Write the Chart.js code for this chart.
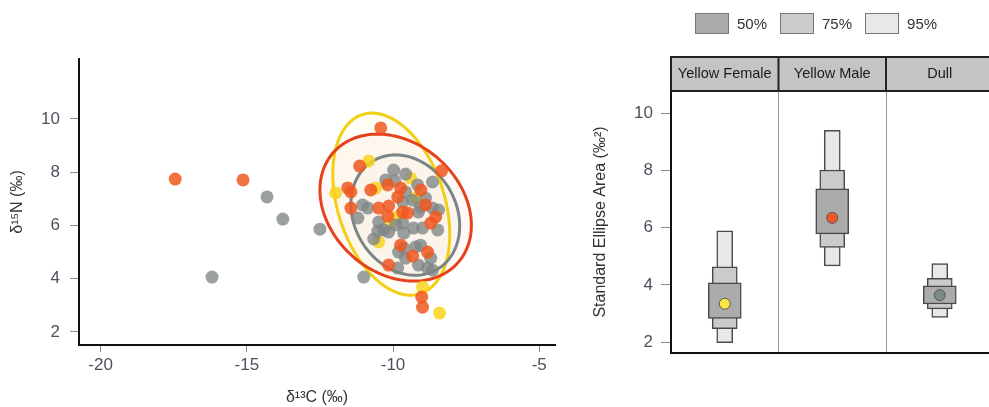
<!DOCTYPE html>
<html>
<head>
<meta charset="utf-8">
<script src="https://cdn.jsdelivr.net/npm/chart.js@4.4.1/dist/chart.umd.min.js"></script>
<style>
html, body { margin: 0; padding: 0; background: #fff; overflow: hidden; width: 989px; height: 407px; position: relative; font-family: "Liberation Sans", Arial, sans-serif; }
#left { position: absolute; left: 0; top: 0; }
#right { position: absolute; left: 580px; top: 0; }
#legend { position: absolute; left: 695px; top: 13px; display: flex; align-items: center; font-size: 15px; color: #333; }
.sw { width: 32px; height: 19px; border: 1px solid #777; margin-right: 8px; }
.lb { margin-right: 13px; }
</style>
</head>
<body>
<canvas id="left" width="580" height="407"></canvas>
<canvas id="right" width="420" height="407"></canvas>
<div id="legend">
  <div class="sw" style="background:#ababab"></div><span class="lb">50%</span>
  <div class="sw" style="background:#cbcbcb"></div><span class="lb">75%</span>
  <div class="sw" style="background:#e8e8e8"></div><span class="lb">95%</span>
</div>
<script>
// scatter: d13C / d15N per group
const orangeC = [-17.45, -15.13, -10.42, -11.14, -8.34, -11.55, -11.44, -10.76, -10.18, -9.74, -9.05, -9.84, -11.44, -10.49, -10.15, -9.67, -8.89, -10.18, -9.5, -8.54, -8.71, -9.74, -9.33, -8.82, -10.15, -9.02, -8.99];
const orangeN = [7.74, 7.71, 9.66, 8.23, 8.05, 7.41, 7.26, 7.33, 7.52, 7.41, 7.33, 7.07, 6.65, 6.65, 6.73, 6.5, 6.77, 6.35, 6.47, 6.32, 6.09, 5.26, 4.85, 5.0, 4.51, 3.31, 2.93];
const yellowC = [-10.83, -11.96, -10.59, -9.4, -9.23, -9.84, -10.08, -10.49, -8.99, -8.41];
const yellowN = [8.42, 7.22, 7.41, 7.78, 7.03, 6.32, 6.09, 5.38, 3.68, 2.71];
const grayC = [-14.31, -13.77, -12.5, -16.19, -11.0, -8.65, -9.98, -9.57, -10.25, -9.16, -9.57, -8.89, -11.04, -10.86, -9.67, -8.65, -11.2, -9.13, -10.49, -10.52, -10.15, -10.66, -9.67, -9.63, -9.3, -8.99, -9.23, -9.81, -9.57, -8.71, -9.84, -9.13, -8.82, -8.65, -9.63, -9.33, -8.47, -10.32, -9.91, -9.06, -9.94, -8.44, -9.06];
const grayN = [7.07, 6.24, 5.86, 4.06, 4.06, 7.63, 8.08, 7.93, 7.71, 7.52, 7.26, 7.03, 6.77, 6.65, 6.88, 6.65, 6.28, 6.5, 6.13, 5.79, 5.75, 5.49, 6.09, 5.71, 5.9, 5.9, 5.19, 5.0, 4.77, 4.77, 4.4, 4.51, 4.4, 4.32, 5.15, 6.95, 5.83, 5.83, 6.02, 6.69, 7.67, 6.58, 5.26];

// ellipses: yellow, gray, orange
const ellipseX = [-10.06, -9.58, -9.91];
const ellipseY = [6.80, 6.39, 6.67];
const ellipseRx = [2.0, 1.86, 2.59];
const ellipseRy = [3.42, 2.26, 2.76];
const ellipseTilt = [0.33, 0.18, 0.24];

const xTicksLeft = [-20, -15, -10, -5];
const yTicksLeft = [2, 4, 6, 8, 10];

// standard ellipse area credible intervals
const groups = ['Yellow Female', 'Yellow Male', 'Dull'];
const ci95 = [[1.98, 5.89], [4.66, 9.40], [2.86, 4.74]];
const ci75 = [[2.47, 4.63], [5.31, 8.01], [3.16, 4.23]];
const ci50 = [[2.83, 4.07], [5.78, 7.35], [3.33, 3.97]];
const modes = [3.34, 6.34, 3.64];
const yTicksRight = [2, 4, 6, 8, 10];

const tickFont = { family: 'Liberation Sans, Arial, sans-serif', size: 17 };
const tickColor = '#50505e';

function pts(xs, ys) {
    return xs.map((v, i) => ({ x: v, y: ys[i] }));
}

const ellipsePlugin = {
    id: 'ellipses',
    beforeDatasetsDraw(chart) {
        const { ctx, scales: { x, y }, chartArea } = chart;
        const fills = ['rgba(245,215,80,0.05)', 'rgba(150,150,150,0.04)', 'rgba(240,160,110,0.06)'];
        const lines = ['#f3cf12', '#7b8585', '#e5411b'];
        const paths = [];
        for (let i = 0; i < ellipseX.length; i++) {
            const ph = Math.acos(ellipseTilt[i]);
            const p = new Path2D();
            for (let k = 0; k <= 160; k++) {
                const t = k / 160 * 2 * Math.PI;
                const px = x.getPixelForValue(ellipseX[i] + ellipseRx[i] * Math.cos(t));
                const py = y.getPixelForValue(ellipseY[i] - ellipseRy[i] * Math.cos(t - ph));
                if (k === 0) p.moveTo(px, py); else p.lineTo(px, py);
            }
            p.closePath();
            paths.push(p);
        }
        ctx.save();
        ctx.beginPath();
        ctx.rect(chartArea.left, chartArea.top, chartArea.width, chartArea.height);
        ctx.clip();
        paths.forEach((p, i) => { ctx.fillStyle = fills[i]; ctx.fill(p); });
        ctx.lineWidth = 3;
        paths.forEach((p, i) => { ctx.strokeStyle = lines[i]; ctx.stroke(p); });
        ctx.restore();
    }
};

new Chart(document.getElementById('left'), {
    type: 'scatter',
    data: {
        datasets: [
            { data: pts(orangeC, orangeN), backgroundColor: 'rgba(240,88,32,0.85)', pointRadius: 6.5, borderWidth: 0 },
            { data: pts(grayC, grayN), backgroundColor: 'rgba(125,133,133,0.78)', pointRadius: 6.5, borderWidth: 0 },
            { data: pts(yellowC, yellowN), backgroundColor: 'rgba(250,212,30,0.85)', pointRadius: 6.5, borderWidth: 0 }
        ]
    },
    options: {
        responsive: false,
        animation: false,
        layout: { padding: { top: 59, right: 25, left: 0, bottom: 0 } },
        plugins: { legend: { display: false }, tooltip: { enabled: false } },
        scales: {
            x: {
                type: 'linear', min: -20.74, max: -4.46,
                afterBuildTicks: s => { s.ticks = xTicksLeft.map(v => ({ value: v })); },
                afterFit: s => { s.height = 62; },
                grid: { drawOnChartArea: false, tickLength: 7, color: '#888' },
                border: { color: '#111', width: 2 },
                ticks: { font: tickFont, color: tickColor, padding: 3 },
                title: { display: true, text: 'δ¹³C (‰)', font: { family: 'Liberation Sans, Arial, sans-serif', size: 16 }, color: '#333', padding: 0 }
            },
            y: {
                type: 'linear', min: 1.51, max: 12.25,
                afterBuildTicks: s => { s.ticks = yTicksLeft.map(v => ({ value: v })); },
                afterFit: s => { s.width = 79; },
                grid: { drawOnChartArea: false, tickLength: 9, color: '#888' },
                border: { color: '#111', width: 2 },
                ticks: { font: tickFont, color: tickColor, padding: 10 },
                title: { display: true, text: 'δ¹⁵N (‰)', font: { family: 'Liberation Sans, Arial, sans-serif', size: 16 }, color: '#333', padding: { top: 8, bottom: 0 } }
            }
        }
    },
    plugins: [ellipsePlugin]
});

const headerPlugin = {
    id: 'header',
    afterDraw(chart) {
        const { ctx, chartArea, scales: { x } } = chart;
        const top = 57, bottom = chartArea.top;
        const half = (x.getPixelForValue(1) - x.getPixelForValue(0)) / 2;
        ctx.save();
        ctx.fillStyle = '#c4c4c4';
        ctx.fillRect(chartArea.left, top, chartArea.width, bottom - top);
        ctx.strokeStyle = '#222';
        ctx.lineWidth = 2;
        ctx.strokeRect(chartArea.left, top, chartArea.width, bottom - top);
        ctx.fillStyle = '#1a1a1a';
        ctx.font = '14.5px "Liberation Sans", Arial, sans-serif';
        ctx.textAlign = 'center';
        ctx.textBaseline = 'middle';
        groups.forEach((g, i) => {
            const cx = x.getPixelForValue(i);
            ctx.fillText(g, cx, (top + bottom) / 2);
            if (i < groups.length - 1) {
                ctx.beginPath();
                ctx.moveTo(cx + half, top);
                ctx.lineTo(cx + half, bottom);
                ctx.stroke();
            }
        });
        ctx.restore();
    }
};

const boxStyle = { borderColor: '#4a4a4a', borderWidth: 1.5, borderSkipped: false, grouped: false };

new Chart(document.getElementById('right'), {
    type: 'bar',
    data: {
        labels: groups,
        datasets: [
            { type: 'line', data: modes, showLine: false, order: 0, pointRadius: 5.5, pointBorderWidth: 1, pointBorderColor: '#555',
              pointBackgroundColor: ['#fde344', '#f05a28', '#7e8a8a'] },
            Object.assign({ data: ci50, backgroundColor: '#ababab', barThickness: 33, order: 1 }, boxStyle),
            Object.assign({ data: ci75, backgroundColor: '#cbcbcb', barThickness: 25, order: 2 }, boxStyle),
            Object.assign({ data: ci95, backgroundColor: '#e8e8e8', barThickness: 16, order: 3 }, boxStyle)
        ]
    },
    options: {
        responsive: false,
        animation: false,
        layout: { padding: { top: 91, right: 3, left: 0, bottom: 54 } },
        plugins: { legend: { display: false }, tooltip: { enabled: false } },
        scales: {
            x: {
                afterFit: s => { s.height = 0; },
                ticks: { display: false },
                grid: { offset: true, drawTicks: false, color: '#999', lineWidth: 1 },
                border: { color: '#111', width: 2 }
            },
            y: {
                min: 1.62, max: 10.77,
                afterBuildTicks: s => { s.ticks = yTicksRight.map(v => ({ value: v })); },
                afterFit: s => { s.width = 91; },
                grid: { drawOnChartArea: false, tickLength: 10, color: '#888' },
                border: { color: '#111', width: 2 },
                ticks: { font: tickFont, color: tickColor, padding: 8 },
                title: { display: true, text: 'Standard Ellipse Area (‰²)', font: { family: 'Liberation Sans, Arial, sans-serif', size: 16 }, color: '#333', padding: { top: 11, bottom: 0 } }
            }
        }
    },
    plugins: [headerPlugin]
});
</script>
</body>
</html>
